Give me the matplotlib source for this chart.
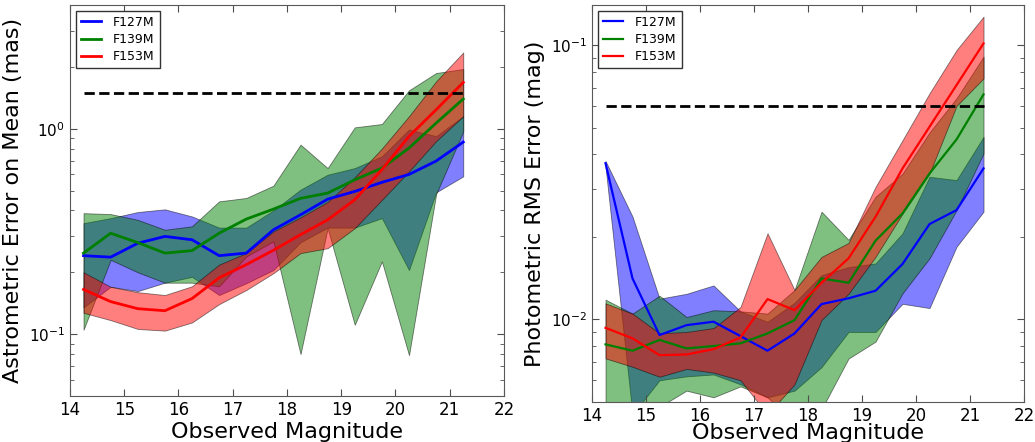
import matplotlib
matplotlib.use('Agg')
import matplotlib.pyplot as plt
import numpy as np
from matplotlib.ticker import LogLocator, FixedLocator

# magnitude bins (bin centres)
mag = [14.25, 14.75, 15.25, 15.75, 16.25, 16.75, 17.25, 17.75,
       18.25, 18.75, 19.25, 19.75, 20.25, 20.75, 21.25]
filters = ['F127M', 'F139M', 'F153M']
colors = ['b', 'g', 'r']

# astrometric error on mean (mas): median, upper and lower envelope
ast_127 = [0.241, 0.237, 0.277, 0.299, 0.288, 0.241, 0.248, 0.322,
           0.381, 0.454, 0.495, 0.548, 0.599, 0.696, 0.861]
ast_127_hi = [0.347, 0.367, 0.393, 0.405, 0.374, 0.330, 0.330, 0.400,
              0.505, 0.597, 0.643, 0.733, 0.990, 0.920, 1.150]
ast_127_lo = [0.135, 0.170, 0.162, 0.178, 0.190, 0.155, 0.177, 0.205,
              0.280, 0.330, 0.330, 0.367, 0.205, 0.490, 0.586]

ast_139 = [0.248, 0.310, 0.279, 0.248, 0.255, 0.310, 0.363, 0.406,
           0.458, 0.486, 0.564, 0.643, 0.805, 1.065, 1.395]
ast_139_hi = [0.388, 0.384, 0.360, 0.322, 0.335, 0.443, 0.460, 0.528,
              0.836, 0.643, 1.015, 1.054, 1.537, 1.866, 1.952]
ast_139_lo = [0.105, 0.230, 0.200, 0.178, 0.178, 0.171, 0.239, 0.283,
              0.080, 0.328, 0.111, 0.226, 0.079, 0.480, 0.970]

ast_153 = [0.165, 0.144, 0.133, 0.130, 0.149, 0.188, 0.218, 0.256,
           0.305, 0.360, 0.451, 0.632, 0.918, 1.237, 1.680]
ast_153_hi = [0.200, 0.170, 0.160, 0.155, 0.171, 0.218, 0.248, 0.316,
              0.370, 0.440, 0.580, 0.800, 1.150, 1.700, 2.350]
ast_153_lo = [0.127, 0.117, 0.106, 0.104, 0.114, 0.140, 0.164, 0.198,
              0.248, 0.262, 0.328, 0.450, 0.620, 0.870, 1.150]

# photometric rms error (mag)
phot_127 = [0.0371, 0.0141, 0.00877, 0.00953, 0.00981, 0.00869, 0.00769, 0.00889,
            0.01137, 0.01194, 0.01272, 0.01592, 0.02226, 0.02503, 0.03552]
phot_127_hi = [0.0378, 0.0237, 0.0119, 0.0124, 0.0133, 0.0107, 0.0098, 0.0115,
               0.0145, 0.0155, 0.0160, 0.0206, 0.0331, 0.0322, 0.0463]
phot_127_lo = [0.0360, 0.0045, 0.0060, 0.0062, 0.0063, 0.0058, 0.0052, 0.0055,
               0.0067, 0.0090, 0.0090, 0.0114, 0.0110, 0.0184, 0.0247]

phot_139 = [0.00811, 0.00769, 0.00842, 0.00784, 0.00800, 0.00818, 0.00889, 0.00994,
            0.01411, 0.01360, 0.01936, 0.02434, 0.03404, 0.04528, 0.0661]
phot_139_hi = [0.0118, 0.0105, 0.0122, 0.0102, 0.0108, 0.0107, 0.0105, 0.0128,
               0.0247, 0.0195, 0.0280, 0.0340, 0.0480, 0.0640, 0.0907]
phot_139_lo = [0.0042, 0.0045, 0.0048, 0.0055, 0.0052, 0.0057, 0.0052, 0.0042,
               0.0047, 0.0072, 0.0083, 0.01245, 0.0167, 0.0250, 0.0403]

phot_153 = [0.00932, 0.00853, 0.00741, 0.00745, 0.00779, 0.00860, 0.01186, 0.01081,
            0.0136, 0.01669, 0.02366, 0.03552, 0.05038, 0.07147, 0.1014]
phot_153_hi = [0.01144, 0.0105, 0.0089, 0.0090, 0.0093, 0.0111, 0.0206, 0.0128,
               0.0169, 0.0190, 0.0304, 0.0450, 0.0667, 0.0959, 0.1269]
phot_153_lo = [0.00721, 0.00672, 0.00618, 0.0066, 0.0064, 0.0060, 0.0045, 0.0058,
               0.00995, 0.0124, 0.0169, 0.0243, 0.0340, 0.0600, 0.0756]

ast_limit = 1.5
phot_limit = 0.06

plt.rcParams['font.family'] = ['DejaVu Sans']
plt.rcParams['mathtext.fontset'] = 'dejavusans'
plt.rcParams['xtick.direction'] = 'in'
plt.rcParams['ytick.direction'] = 'in'
plt.rcParams['xtick.top'] = True
plt.rcParams['ytick.right'] = True


def panel(ax, means, his, los, limit, ylim, ylabel, lw, xpad):
    for m, hi, lo, c in zip(means, his, los, colors):
        ax.fill_between(mag, lo, hi, facecolor=c, edgecolor='k',
                        linewidth=0.6, alpha=0.5)
    for m, c, f in zip(means, colors, filters):
        ax.plot(mag, m, color=c, lw=lw, label=f, zorder=3)
    ax.plot([mag[0], mag[-1]], [limit, limit], 'k--', lw=2, zorder=3)
    ax.set_yscale('log')
    ax.set_xlim(14, 22)
    ax.set_ylim(*ylim)
    ax.xaxis.set_major_locator(FixedLocator(range(14, 23)))
    ax.yaxis.set_minor_locator(LogLocator(base=10, subs=np.arange(2, 10)))
    ax.tick_params(which='major', length=5, width=0.8, color='0.3')
    ax.tick_params(which='minor', length=3, width=0.6, color='0.3')
    ax.tick_params(axis='x', labelsize=12)
    ax.tick_params(axis='y', labelsize=11)
    for s in ax.spines.values():
        s.set_color('0.35')
    ax.set_xlabel('Observed Magnitude', fontsize=16, labelpad=xpad)
    ax.set_ylabel(ylabel, fontsize=16)
    leg = ax.legend(loc='upper left', fontsize=9, fancybox=False,
                    framealpha=1, edgecolor='0.2', handlelength=1.6,
                    handletextpad=1.0, borderaxespad=0.45, labelspacing=0.35)
    leg.get_frame().set_linewidth(1.0)


fig = plt.figure(figsize=(10.35, 4.42), dpi=100)
ax1 = fig.add_axes([0.0676, 0.1041, 0.4193, 0.8846])
ax2 = fig.add_axes([0.572, 0.0905, 0.4174, 0.8982])

panel(ax1, [ast_127, ast_139, ast_153],
      [ast_127_hi, ast_139_hi, ast_153_hi],
      [ast_127_lo, ast_139_lo, ast_153_lo],
      ast_limit, (0.05, 4.0), 'Astrometric Error on Mean (mas)', 2.0, 2)
panel(ax2, [phot_127, phot_139, phot_153],
      [phot_127_hi, phot_139_hi, phot_153_hi],
      [phot_127_lo, phot_139_lo, phot_153_lo],
      phot_limit, (0.005, 0.14), 'Photometric RMS Error (mag)', 1.6, -1)

fig.savefig('out.png', dpi=100, facecolor='white')
